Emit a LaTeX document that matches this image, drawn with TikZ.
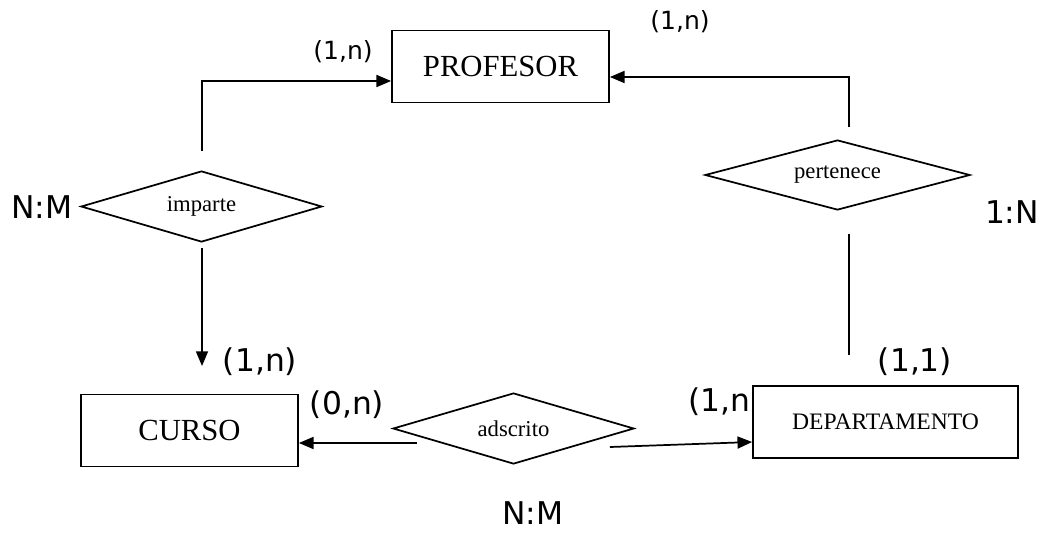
\documentclass[tikz,border=0pt]{standalone}
\usepackage{fontspec}
\setmainfont{Liberation Serif}
\setsansfont{DejaVu Sans}
\usetikzlibrary{shapes.geometric, arrows.meta, calc}

\begin{document}
\begin{tikzpicture}[
  x=0.75pt, y=-0.75pt,
  entity/.style={rectangle, draw=black, fill=white, line width=1.3pt, minimum width=162.75pt, minimum height=54pt, inner sep=0pt, font=\fontsize{23}{27}\selectfont},
  rel/.style={diamond, aspect=4, draw=black, line width=1.3pt, minimum width=180.75pt, minimum height=53.25pt, inner sep=0pt, font=\fontsize{17}{20}\selectfont},
  link/.style={draw=black, line width=1.3pt, -{Triangle[length=11pt, width=9pt]}},
  plain/.style={draw=black, line width=1.3pt},
  card/.style={font=\sffamily\fontsize{23.5}{27}\selectfont, inner sep=0pt},
  cardsmall/.style={font=\sffamily\fontsize{18.8}{22}\selectfont, inner sep=0pt},
]
  \useasboundingbox (0,0) rectangle (1049,532);

  \node[entity] (profesor) at (500.5,66.5) {PROFESOR};
  \node[entity] (curso) at (189.5,430.5) {CURSO};
  \node[entity, minimum width=198.75pt, font=\fontsize{17.7}{21}\selectfont] (depto) at (885.5,422) {DEPARTAMENTO};

  \node[rel] (imparte) at (201.5,206.5) {imparte};
  \node[rel, minimum width=198.75pt, minimum height=52.5pt] (pertenece) at (837.5,175) {pertenece};
  \node[rel] (adscrito) at (513.5,428.5) {adscrito};

  \coordinate (impA) at ($(imparte.north)+(0.5,-19)$);
  \coordinate (impB) at ($(imparte.south)+(0.5,5)$);
  \coordinate (cursoIn) at (202,366);
  \coordinate (perA) at ($(pertenece.north)+(11.5,-12)$);
  \coordinate (perB) at ($(pertenece.south)+(11.5,23)$);
  \coordinate (deptoIn) at (849,355);
  \coordinate (adsA) at ($(adscrito.west)+(25,14.5)$);
  \coordinate (adsB) at ($(adscrito.east)+(-25,18.5)$);

  \draw[link] (impA) |- ($(profesor.west)+(0,14.5)$);
  \draw[link] (impB) -- (cursoIn);
  \draw[link] (perA) |- ($(profesor.east)+(0,10.5)$);
  \draw[plain] (perB) -- (deptoIn);
  \draw[link] (adsA) -- ($(curso.east)+(0,12.5)$);
  \draw[link] (adsB) -- ($(depto.west)+(0,20)$);

  \node[cardsmall] (cardProfA) at (343,52) {(1,n)};
  \node[cardsmall] (cardProfB) at (680,22) {(1,n)};
  \node[card] (cardImparte) at (42,207) {N:M};
  \node[card] (cardPertenece) at (1012,212) {1:N};
  \node[card] (cardCursoA) at (260,362) {(1,n)};
  \node[card] (cardCursoB) at (347,405) {(0,n)};
  \node[card] (cardDeptoA) at (915,362) {(1,1)};
  \node[card, anchor=east] (cardDeptoB) at (751,402) {(1,n};
  \node[card] (cardAdscrito) at (533,513) {N:M};
\end{tikzpicture}
\end{document}
